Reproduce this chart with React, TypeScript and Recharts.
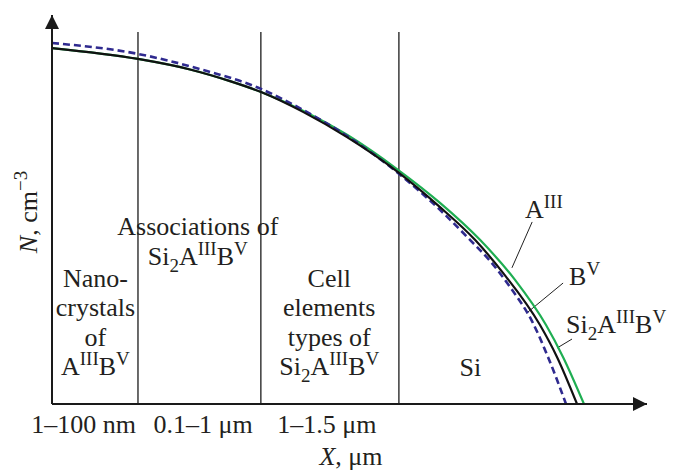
import React from 'react';
import { LineChart, Line, XAxis, YAxis, ReferenceLine, ReferenceDot } from 'recharts';

// Si2AIIIBV (black solid)
const si2X = [0, 14.45, 23.19, 29.92, 35.13, 42.18, 49.58, 58.15, 65.21, 71.09, 75.8, 82.02, 84.87, 88.24];
const si2N = [91.5, 88.7, 86.0, 83.0, 80.2, 75.1, 68.6, 59.6, 50.6, 42.2, 33.7, 20.3, 12.1, 0];
// AIII (green)
const a3X = [0, 14.45, 23.19, 29.92, 35.13, 42.18, 49.58, 58.15, 65.21, 71.93, 77.82, 83.03, 85.88, 89.41];
const a3N = [91.5, 88.7, 86.0, 83.0, 80.2, 75.4, 69.2, 60.2, 51.7, 42.2, 31.9, 20.3, 12.1, 0];
// BV (blue dashed)
const b5X = [0, 14.45, 24.87, 35.13, 42.18, 49.58, 58.15, 65.21, 70.25, 73.61, 76.97, 80.67, 83.36, 86.39];
const b5N = [92.8, 90.0, 86.1, 81.0, 75.6, 68.9, 59.4, 49.9, 42.2, 36.8, 30.1, 21.3, 12.1, 0];

// region borders on X
const borders = [14.45, 35.1, 58.3];
const borderTop = 95.6;

// x tick labels
const tickPos = [5.3, 25.4, 46.2];
const tickLabels = ['1–100 nm', '0.1–1 μm', '1–1.5 μm'];

const toPts = (xs: number[], ys: number[]) => xs.map((x, i) => ({ x, y: ys[i] }));
const si2Data = toPts(si2X, si2N);
const a3Data = toPts(a3X, a3N);
const b5Data = toPts(b5X, b5N);

const FONT = '"Liberation Serif", "Times New Roman", serif';
const FS = 26;
const SFS = 19;
const TXT = '#231f20';

type Seg = [string, number?]; // 0 normal, 1 sup, -1 sub, 2 italic
const segs = (list: Seg[]) => {
  let cur = 0;
  return list.map(([t, s = 0], i) => {
    const target = s === 1 ? -10 : s === -1 ? 7 : 0;
    const dy = target - cur;
    cur = target;
    return (
      <tspan key={i} dy={dy} fontSize={s === 1 || s === -1 ? SFS : FS} fontStyle={s === 2 ? 'italic' : 'normal'}>
        {t}
      </tspan>
    );
  });
};

const SI2AB: Seg[] = [['Si'], ['2', -1], ['A'], ['III', 1], ['B'], ['V', 1]];
const AB: Seg[] = [['A'], ['III', 1], ['B'], ['V', 1]];

// annotations: anchor (x, first baseline y) in data units
const notes: { x: number; y: number; anchor: 'start' | 'middle'; lines: Seg[][] }[] = [
  { x: 7.3, y: 30.1, anchor: 'middle', lines: [[['Nano-']], [['crystals']], [['of']], AB] },
  { x: 24.5, y: 43.4, anchor: 'middle', lines: [[['Associations of']], SI2AB] },
  { x: 46.6, y: 30.1, anchor: 'middle', lines: [[['Cell']], [['elements']], [['types of']], SI2AB] },
  { x: 70.3, y: 7.2, anchor: 'middle', lines: [[['Si']]] },
  { x: 79.5, y: 47.8, anchor: 'start', lines: [[['A'], ['III', 1]]] },
  { x: 86.9, y: 30.6, anchor: 'start', lines: [[['B'], ['V', 1]]] },
  { x: 86.4, y: 18.3, anchor: 'start', lines: [SI2AB] },
];

// leader lines
const leaders = [
  [{ x: 80.7, y: 46.8 }, { x: 77.3, y: 35.0 }],
  [{ x: 85.9, y: 31.1 }, { x: 79.8, y: 23.4 }],
  [{ x: 87.4, y: 16.7 }, { x: 84.9, y: 14.4 }],
];

const XTick = (props: any) => {
  const { x, y, payload } = props;
  const idx = tickPos.indexOf(payload.value);
  return (
    <text x={x} y={y + 21} textAnchor="middle" fontFamily={FONT} fontSize={FS} fill={TXT}>
      {tickLabels[idx]}
    </text>
  );
};

const XLabel = (props: any) => {
  const vb = props.viewBox;
  return (
    <text x={vb.x + 299} y={vb.y + 61} textAnchor="middle" fontFamily={FONT} fontSize={FS} fill={TXT}>
      {segs([['X', 2], [', μm']])}
    </text>
  );
};

const YLabel = (props: any) => {
  const vb = props.viewBox;
  const cx = vb.x + 37;
  const cy = vb.y + 197;
  return (
    <text x={cx} y={cy} transform={`rotate(-90, ${cx}, ${cy})`} textAnchor="middle" fontFamily={FONT} fontSize={FS} fill={TXT}>
      {segs([['N', 2], [', cm'], ['−3', 1]])}
    </text>
  );
};

const noteShape = (n: (typeof notes)[number]) => (p: any) => (
  <g>
    {n.lines.map((ln, i) => (
      <text key={i} x={p.cx} y={p.cy + i * 29.5} textAnchor={n.anchor} fontFamily={FONT} fontSize={FS} fill={TXT}>
        {segs(ln)}
      </text>
    ))}
  </g>
);

const arrowRight = (p: any) => (
  <polygon points={`${p.cx},${p.cy} ${p.cx - 14},${p.cy - 7} ${p.cx - 14},${p.cy + 7}`} fill="#1a1a1a" />
);
const arrowUp = (p: any) => (
  <polygon points={`${p.cx},${p.cy} ${p.cx - 7},${p.cy + 14} ${p.cx + 7},${p.cy + 14}`} fill="#1a1a1a" />
);

export default function App() {
  return (
    <div style={{ position: 'absolute', left: 0, top: 0, background: '#fff' }}>
      <LineChart width={674} height={470} margin={{ top: 15, right: 27, bottom: 0, left: 0 }}>
        <XAxis
          type="number"
          dataKey="x"
          domain={[0, 100]}
          ticks={tickPos}
          interval={0}
          tick={<XTick />}
          tickLine={false}
          axisLine={{ stroke: '#1a1a1a', strokeWidth: 2 }}
          height={66}
          allowDataOverflow
          label={<XLabel />}
        />
        <YAxis
          type="number"
          dataKey="y"
          domain={[0, 100]}
          tick={false}
          tickLine={false}
          axisLine={{ stroke: '#1a1a1a', strokeWidth: 2 }}
          width={52}
          allowDataOverflow
          label={<YLabel />}
        />
        {borders.map((b) => (
          <ReferenceLine
            key={b}
            segment={[{ x: b, y: 0 }, { x: b, y: borderTop }]}
            stroke="#3a3a3a"
            strokeWidth={1.5}
            ifOverflow="visible"
          />
        ))}
        {leaders.map((s, i) => (
          <ReferenceLine key={'l' + i} segment={s} stroke="#222" strokeWidth={1} ifOverflow="visible" />
        ))}
        <Line data={a3Data} dataKey="y" type="monotone" stroke="#1fae52" strokeWidth={2.2} dot={false} isAnimationActive={false} />
        <Line data={b5Data} dataKey="y" type="monotone" stroke="#2f2a8f" strokeWidth={2.6} strokeDasharray="7 4" dot={false} isAnimationActive={false} />
        <Line data={si2Data} dataKey="y" type="monotone" stroke="#111" strokeWidth={2.2} dot={false} isAnimationActive={false} />
        {notes.map((n, i) => (
          <ReferenceDot key={'n' + i} x={n.x} y={n.y} r={1} ifOverflow="visible" shape={noteShape(n)} />
        ))}
        <ReferenceDot x={100} y={0} r={1} ifOverflow="visible" shape={arrowRight} />
        <ReferenceDot x={0} y={100} r={1} ifOverflow="visible" shape={arrowUp} />
      </LineChart>
    </div>
  );
}
